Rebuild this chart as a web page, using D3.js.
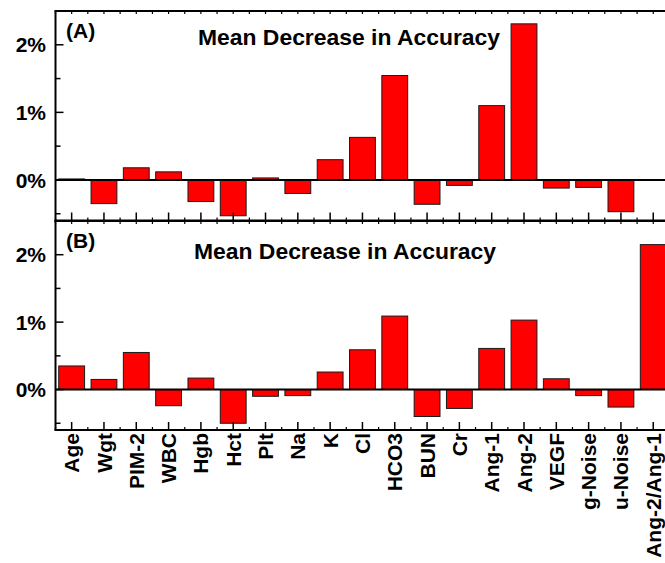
<!DOCTYPE html>
<html>
<head>
<meta charset="utf-8">
<script src="https://cdn.jsdelivr.net/npm/d3@7"></script>
<style>
  body { margin: 0; background: #fff; }
  svg { display: block; font-family: Arial, "Liberation Sans", sans-serif; font-weight: bold; }
</style>
</head>
<body>
<svg id="chart" width="665" height="563"></svg>
<script>
const categories = ["Age","Wgt","PIM-2","WBC","Hgb","Hct","Plt","Na","K","Cl","HCO3","BUN","Cr","Ang-1","Ang-2","VEGF","g-Noise","u-Noise","Ang-2/Ang-1"];
// Mean decrease in accuracy (%), panel A and panel B
const valuesA = [0.015,-0.35,0.18,0.12,-0.32,-0.53,0.03,-0.20,0.30,0.63,1.545,-0.36,-0.08,1.10,2.31,-0.12,-0.11,-0.47,null];
const valuesB = [0.35,0.15,0.55,-0.24,0.17,-0.50,-0.10,-0.09,0.26,0.59,1.09,-0.40,-0.28,0.61,1.03,0.16,-0.09,-0.26,2.15];
const yTicksMajor = [0,1,2];
const yTicksMinor = [-0.5,0.5,1.5];
const yTickLabels = ["0%","1%","2%"];
const panelLabels = ["(A)","(B)"];
const panelTitle = "Mean Decrease in Accuracy";

const svg = d3.select("#chart");
const left = 55.5, right = 669.4;
const x = d3.scaleBand().domain(categories).range([left, right]).paddingInner(0.2).paddingOuter(0.1);
const step = x.step();

const panels = [
  {values: valuesA, top: 11, bottom: 220.5, label: panelLabels[0], titleX: 198, titleY: 45, labelY: 38},
  {values: valuesB, top: 221, bottom: 430, label: panelLabels[1], titleX: 194, titleY: 259, labelY: 248}
];

panels.forEach((p, pi) => {
  const y = d3.scaleLinear().domain([-0.6, 2.5]).range([p.bottom, p.top]);
  const g = svg.append("g");

  // bars
  const data = categories.map((c, i) => ({c, v: p.values[i]})).filter(d => d.v !== null);
  g.selectAll("rect.bar").data(data).enter().append("rect")
    .attr("class", "bar")
    .attr("x", d => x(d.c))
    .attr("width", x.bandwidth())
    .attr("y", d => y(Math.max(0, d.v)))
    .attr("height", d => Math.abs(y(d.v) - y(0)))
    .attr("fill", "#ff0000")
    .attr("stroke", "#1a1a1a")
    .attr("stroke-width", 1);

  // zero line
  g.append("line")
    .attr("x1", left).attr("x2", 665)
    .attr("y1", y(0)).attr("y2", y(0))
    .attr("stroke", "#000").attr("stroke-width", 2);

  // frame
  g.append("line").attr("x1", left).attr("x2", left).attr("y1", p.top).attr("y2", p.bottom)
    .attr("stroke", "#000").attr("stroke-width", 2);
  g.append("line").attr("x1", left - 1).attr("x2", 665).attr("y1", p.top).attr("y2", p.top)
    .attr("stroke", "#000").attr("stroke-width", 2);
  g.append("line").attr("x1", left - 1).attr("x2", 665).attr("y1", p.bottom).attr("y2", p.bottom)
    .attr("stroke", "#000").attr("stroke-width", 2);

  // y ticks (inward)
  g.selectAll("line.ymaj").data(yTicksMajor).enter().append("line")
    .attr("x1", left).attr("x2", left + 8)
    .attr("y1", d => y(d)).attr("y2", d => y(d))
    .attr("stroke", "#000").attr("stroke-width", 1.5);
  g.selectAll("line.ymin").data(yTicksMinor).enter().append("line")
    .attr("x1", left).attr("x2", left + 5)
    .attr("y1", d => y(d)).attr("y2", d => y(d))
    .attr("stroke", "#000").attr("stroke-width", 1.5);
  g.selectAll("text.ylab").data(yTicksMajor).enter().append("text")
    .attr("x", left - 9.5)
    .attr("y", d => y(d))
    .attr("dy", "0.36em")
    .attr("text-anchor", "end")
    .attr("font-size", 21)
    .text((d, i) => yTickLabels[i]);

  // x ticks bottom (inward, at centers) + minor at boundaries
  g.selectAll("line.xmaj").data(categories).enter().append("line")
    .attr("x1", d => x(d) + x.bandwidth() / 2).attr("x2", d => x(d) + x.bandwidth() / 2)
    .attr("y1", p.bottom).attr("y2", p.bottom - 8)
    .attr("stroke", "#000").attr("stroke-width", 1.5);
  g.selectAll("line.xmin").data(categories).enter().append("line")
    .attr("x1", d => x(d) - (step - x.bandwidth()) / 2).attr("x2", d => x(d) - (step - x.bandwidth()) / 2)
    .attr("y1", p.bottom).attr("y2", p.bottom - 3)
    .attr("stroke", "#000").attr("stroke-width", 1.2);
  // x ticks top (small, at centers and boundaries)
  g.selectAll("line.xtop").data(categories).enter().append("line")
    .attr("x1", d => x(d) + x.bandwidth() / 2).attr("x2", d => x(d) + x.bandwidth() / 2)
    .attr("y1", p.top).attr("y2", p.top + 3)
    .attr("stroke", "#000").attr("stroke-width", 1.2);
  g.selectAll("line.xtop2").data(categories).enter().append("line")
    .attr("x1", d => x(d) - (step - x.bandwidth()) / 2).attr("x2", d => x(d) - (step - x.bandwidth()) / 2)
    .attr("y1", p.top).attr("y2", p.top + 3)
    .attr("stroke", "#000").attr("stroke-width", 1.2);

  // panel label & title
  g.append("text").attr("x", 66).attr("y", p.labelY).attr("font-size", 21).text(p.label);
  g.append("text").attr("x", p.titleX).attr("y", p.titleY).attr("font-size", 22.9).text(panelTitle);

  // category labels (bottom panel only)
  if (pi === 1) {
    g.selectAll("text.xlab").data(categories).enter().append("text")
      .attr("transform", d => `translate(${x(d) + x.bandwidth() / 2},${p.bottom + 3}) rotate(-90)`)
      .attr("dy", "0.36em")
      .attr("text-anchor", "end")
      .attr("font-size", 21)
      .text(d => d);
  }
});
</script>
</body>
</html>
